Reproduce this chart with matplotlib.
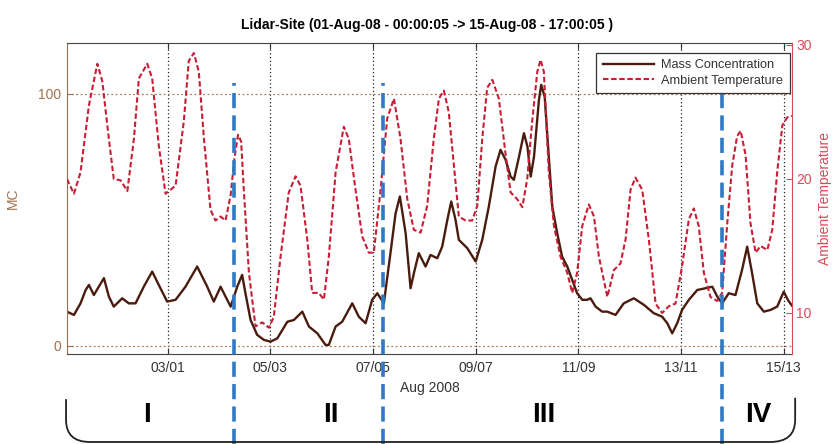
import matplotlib.pyplot as plt
from matplotlib.path import Path
from matplotlib.patches import PathPatch

plt.rcParams['font.family'] = ['Liberation Sans', 'DejaVu Sans']

# time axis = hours since 01-Aug-08 00:00:05
MC_HOURS = [0, 3.4, 6.6, 9.1, 10.7, 13.1, 15.5, 18.0, 20.4, 22.8,
            26.9, 30.1, 33.4, 37.4, 41.5, 44.7, 48.8, 52.9, 57.7, 63.4,
            68.3, 71.5, 74.8, 77.2, 79.7, 82.9, 85.3, 86.9, 89.4, 92.6,
            95.9, 99.1, 102.4, 107.3, 110.5, 114.6, 117.8, 121.9, 125.9, 127.5,
            130.8, 134.0, 138.9, 142.1, 145.4, 148.6, 151.1, 154.3, 157.5, 160.0,
            162.1, 164.9, 167.3, 168.9, 171.3, 174.6, 177.0, 180.3, 182.7, 185.2,
            187.1, 189.2, 190.8, 193.3, 194.9, 199.0, 202.2, 205.4, 208.7, 211.1,
            213.6, 216.0, 217.6, 220.1, 222.5, 224.2, 225.8, 227.4, 229.8, 230.9,
            232.6, 234.6, 236.3, 238.7, 241.1, 243.6, 246.0, 248.4, 250.9, 253.3,
            254.9, 257.4, 260.6, 263.1, 267.1, 271.1, 276.0, 280.9, 285.7, 289.8,
            292.3, 294.7, 297.1, 299.5, 302.8, 306.9, 310.9, 314.2, 316.6, 319.0,
            322.2, 325.5, 328.7, 331.2, 333.6, 336.1, 339.3, 342.6, 345.8, 349.0,
            351.2, 353.0]
MC_VALUES = [13.6, 12.3, 16.9, 22.2, 24.2, 20.2, 23.5, 26.9, 19.6, 15.6,
             18.9, 16.9, 16.9, 23.5, 29.5, 24.2, 17.6, 18.3, 23.5, 31.5,
             23.5, 17.6, 23.5, 19.6, 15.6, 23.5, 28.2, 20.9, 10.3, 4.4,
             2.4, 1.7, 3.0, 9.6, 10.3, 13.6, 7.7, 5.0, 0.4, 0.4,
             7.7, 9.6, 16.9, 11.6, 9.0, 18.3, 20.9, 16.9, 36.8, 52.6,
             59.3, 44.7, 22.9, 28.8, 36.8, 31.5, 36.1, 34.8, 39.4, 50.0,
             57.3, 50.0, 42.1, 40.1, 38.8, 33.5, 42.1, 55.3, 71.2, 77.8,
             73.8, 67.2, 65.9, 75.1, 84.4, 79.1, 67.2, 75.1, 97.6, 103.6,
             98.9, 75.1, 55.3, 44.7, 35.4, 31.5, 26.2, 20.9, 18.3, 18.3,
             18.9, 15.6, 13.6, 13.6, 12.3, 16.9, 18.9, 16.3, 13.0, 11.6,
             9.0, 5.0, 9.0, 14.3, 18.3, 22.2, 22.9, 23.5, 19.6, 16.9,
             20.9, 20.2, 30.2, 39.4, 28.8, 16.9, 13.6, 14.3, 15.6, 21.5,
             18.0, 16.0]

TEMP_HOURS = [0, 3.4, 6.6, 10.7, 14.8, 17.2, 20.4, 22.8, 26.1, 29.4,
              32.6, 35.0, 39.1, 41.5, 44.7, 48.0, 52.9, 56.9, 59.3, 61.8,
              64.2, 66.7, 69.9, 72.3, 74.8, 77.2, 79.7, 81.5, 83.3, 84.8,
              86.1, 88.6, 91.8, 95.1, 98.3, 100.7, 104.0, 108.0, 111.3, 113.7,
              117.0, 119.4, 122.6, 125.1, 127.5, 130.8, 134.8, 137.2, 140.5, 143.8,
              147.0, 149.4, 152.7, 155.9, 159.2, 162.4, 165.7, 168.9, 172.2, 175.4,
              178.6, 181.1, 183.5, 185.9, 188.4, 190.8, 194.1, 197.3, 199.8, 202.2,
              204.6, 207.1, 210.3, 213.6, 216.0, 219.2, 221.7, 224.1, 226.5, 229.0,
              230.6, 232.2, 234.6, 237.1, 240.3, 243.6, 246.0, 248.4, 250.9, 254.1,
              256.6, 259.0, 263.1, 266.3, 269.5, 272.0, 274.4, 276.8, 280.1, 283.3,
              286.6, 289.8, 293.0, 296.3, 299.5, 302.8, 305.2, 307.6, 310.1, 313.3,
              316.6, 319.0, 321.5, 323.9, 326.3, 328.0, 330.4, 332.8, 335.3, 337.7,
              341.0, 343.4, 345.8, 348.3, 350.7, 353.0]
TEMP_VALUES = [20.0, 18.9, 20.5, 25.5, 28.6, 27.3, 23.0, 20.0, 19.9, 19.1,
               23.0, 27.5, 28.6, 27.5, 22.5, 18.9, 19.5, 24.3, 28.8, 29.4,
               28.0, 23.0, 17.7, 16.9, 17.2, 16.9, 18.8, 21.5, 23.3, 22.8,
               19.2, 13.0, 9.0, 9.3, 8.9, 9.7, 14.2, 19.0, 20.2, 19.5,
               15.5, 11.5, 11.5, 11.0, 14.2, 20.5, 23.9, 23.0, 19.2, 15.7,
               14.5, 14.5, 19.2, 24.5, 26.0, 23.0, 18.5, 16.2, 16.0, 18.0,
               23.0, 26.0, 26.6, 25.0, 21.0, 17.2, 16.9, 16.9, 18.0, 23.0,
               26.8, 27.4, 26.0, 21.8, 19.0, 18.5, 17.9, 20.0, 24.3, 28.0,
               28.9, 28.0, 20.5, 16.5, 14.2, 13.0, 11.5, 13.0, 16.5, 18.1,
               17.2, 14.2, 11.2, 13.2, 13.7, 15.5, 19.2, 20.1, 19.2, 15.5,
               10.7, 10.0, 10.5, 10.7, 13.5, 17.0, 17.8, 16.5, 13.0, 11.2,
               10.9, 11.5, 16.7, 21.0, 23.2, 23.6, 21.8, 16.7, 14.5, 15.0,
               14.7, 16.2, 20.5, 24.0, 24.6, 24.7]

TICK_HOURS = [49, 99, 149, 199, 249, 299, 349]
TICK_LABELS = ['03/01', '05/03', '07/05', '09/07', '11/09', '13/11', '15/13']

PHASE_BOUNDS = [81.1, 154.1, 318.7]
PHASE_LABELS = ['I', 'II', 'III', 'IV']
PHASE_CENTERS = [38.8, 128.3, 232.0, 336.7]

MC_COLOR = '#4a1c10'
MC_AXIS = '#a0704c'
T_COLOR = '#c81e36'
T_AXIS = '#d84a58'

fig = plt.figure(figsize=(8.37, 4.44), dpi=100)
ax = fig.add_axes([0.0800, 0.2027, 0.8662, 0.7005])
ax2 = ax.twinx()

# MC on left axis
l1, = ax.plot(MC_HOURS, MC_VALUES, color=MC_COLOR, lw=1.7,
              solid_joinstyle='round', label='Mass Concentration')
ax.set_xlim(0, 353)
ax.set_ylim(-3.2, 120.2)
ax.set_yticks([0, 100])
ax.set_xticks(TICK_HOURS)
ax.set_xticklabels(TICK_LABELS)
for h in TICK_HOURS:
    ax.axvline(h, color='#222222', ls=(0, (1, 2)), lw=0.9, zorder=1)
for v in [0, 100]:
    ax.axhline(v, color='#b07a55', ls=(0, (1.5, 2)), lw=0.9, zorder=1)
ax.tick_params(axis='x', direction='in', top=True, length=4, labelsize=10,
               labelcolor='#333333', pad=5, color='#333333')
ax.tick_params(axis='y', direction='in', length=4, labelsize=10,
               labelcolor=MC_AXIS, color=MC_AXIS, pad=4)
ax.set_ylabel('MC', color=MC_AXIS, fontsize=10)
ax.yaxis.set_label_coords(-0.065, 0.5)
ax.set_xlabel('Aug 2008', fontsize=10, color='#333333', labelpad=4)
ax.spines['left'].set_color(MC_AXIS)
ax.spines['right'].set_visible(False)
for s in ['top', 'bottom']:
    ax.spines[s].set_color('#444444')

# Temperature on right axis
l2, = ax2.plot(TEMP_HOURS, TEMP_VALUES, color=T_COLOR, lw=1.5,
               ls=(0, (2.6, 1.3)), dash_joinstyle='round', label='Ambient Temperature')
ax2.set_ylim(6.94, 30.15)
ax2.set_yticks([10, 20, 30])
ax2.tick_params(axis='y', direction='in', length=4, labelsize=10,
                labelcolor=T_AXIS, color=T_AXIS, pad=3)
ax2.set_ylabel('Ambient Temperature', color=T_AXIS, fontsize=10)
ax2.yaxis.set_label_coords(1.036, 0.5)
ax2.spines['right'].set_color(T_AXIS)
ax2.spines['left'].set_visible(False)
ax2.spines['top'].set_visible(False)
ax2.spines['bottom'].set_visible(False)

# phase separators
for b in PHASE_BOUNDS:
    ax2.axvline(b, ymin=-0.29, ymax=0.871, color='#2f7ac4', lw=2.6,
                ls=(0, (4.2, 2.0)), clip_on=False, zorder=3)
for c, lab in zip(PHASE_CENTERS, PHASE_LABELS):
    ax2.text(c, -0.196, lab, transform=ax2.get_xaxis_transform(), ha='center',
             va='center', fontsize=20, fontweight='bold', color='black', clip_on=False)

leg = ax2.legend(handles=[l1, l2], loc='upper right', bbox_to_anchor=(0.997, 0.969),
                 fontsize=9.2, frameon=True, fancybox=False, framealpha=1,
                 edgecolor='#333333', handlelength=4.0, borderpad=0.5,
                 labelspacing=0.3, borderaxespad=0, handletextpad=0.6)
leg.get_frame().set_linewidth(0.9)
for t in leg.get_texts():
    t.set_color('#333333')

# bracket under the phases
verts = [(0.0789, 0.101), (0.0789, 0.054), (0.0789, 0.0045), (0.1075, 0.0045),
         (0.920, 0.0045), (0.950, 0.0045), (0.950, 0.054), (0.950, 0.104)]
codes = [Path.MOVETO, Path.LINETO, Path.CURVE3, Path.CURVE3,
         Path.LINETO, Path.CURVE3, Path.CURVE3, Path.LINETO]
fig.add_artist(PathPatch(Path(verts, codes), transform=fig.transFigure,
                         fill=False, lw=1.3, color='#222222'))

fig.text(0.51, 0.944, 'Lidar-Site (01-Aug-08 - 00:00:05 -> 15-Aug-08 - 17:00:05 )',
         ha='center', va='center', fontsize=10, fontweight='bold')

fig.savefig('out.png', dpi=100)
